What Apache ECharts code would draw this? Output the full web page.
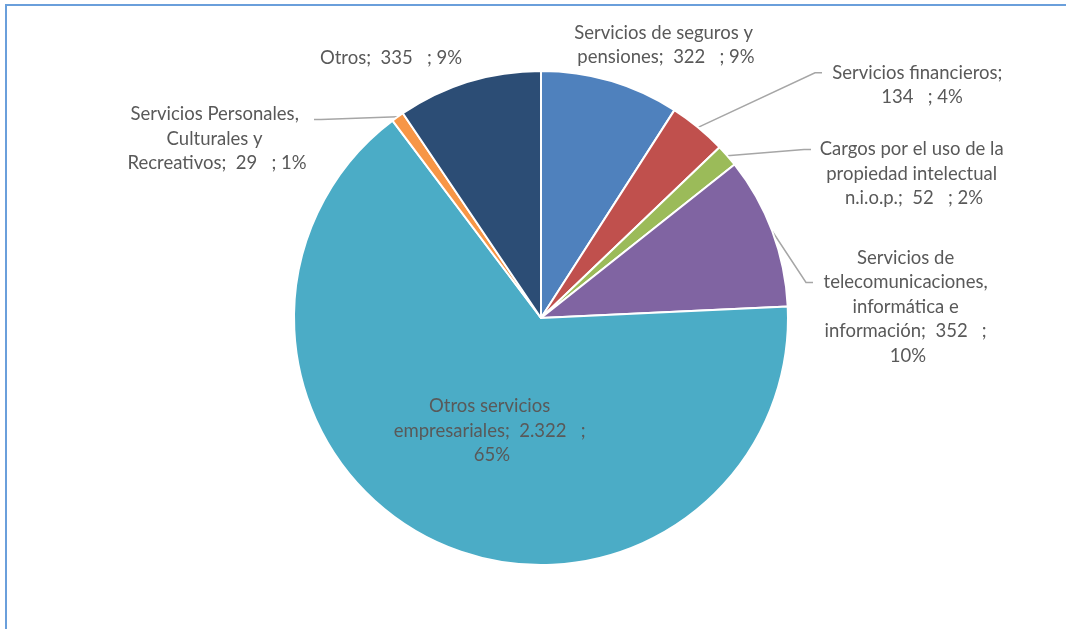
<!DOCTYPE html>
<html>
<head>
<meta charset="utf-8">
<script src="https://cdn.jsdelivr.net/npm/echarts@6/dist/echarts.min.js"></script>
<style>
  html, body { margin: 0; padding: 0; background: #fff; }
  #frame { position: absolute; left: 5px; top: 4px; width: 1061px; height: 623px;
           border-left: 2px solid #6A9FDB; border-top: 2px solid #6A9FDB; border-bottom: 1px solid #EDEDED; }
  #chart { position: absolute; left: 0; top: 0; width: 1066px; height: 629px; }
</style>
</head>
<body>
<div id="frame"></div>
<div id="chart"></div>
<script>
const categories = [
  'Servicios de seguros y pensiones',
  'Servicios financieros',
  'Cargos por el uso de la propiedad intelectual n.i.o.p.',
  'Servicios de telecomunicaciones, informática e información',
  'Otros servicios empresariales',
  'Servicios Personales, Culturales y Recreativos',
  'Otros'
];
const values = [322, 134, 52, 352, 2322, 29, 335];
const percentLabels = [9, 4, 2, 10, 65, 1, 9];

const colors = ['#4F81BD', '#C0504D', '#9BBB59', '#8064A2', '#4BACC6', '#F79646', '#2C4D75'];
// label anchor positions and wrap widths (style)
const labelPos = [[666, 45], [922, 85], [914, 174], [908, 307], [492, 431], [217, 139], [391, 58]];
const labelWidths = [192, 192, 198, 182, 210, 186, 260];
const showLine = [false, true, true, true, false, true, false];
const lineAttachRow = [0, 0, 0, 1, 0, 0.2, 0];
const LH = 24.5;

function fmtNum(v) {
  return String(v).replace(/\B(?=(\d{3})+(?!\d))/g, '.');
}

const chart = echarts.init(document.getElementById('chart'), null, { renderer: 'canvas' });
chart.setOption({
  backgroundColor: 'transparent',
  animation: false,
  series: [{
    type: 'pie',
    center: [541, 318],
    radius: [0, 247],
    startAngle: 90,
    clockwise: true,
    avoidLabelOverlap: false,
    itemStyle: { borderColor: '#fff', borderWidth: 2 },
    label: {
      show: true,
      position: 'outside',
      color: '#595959',
      fontFamily: 'Lato',
      fontSize: 18.5,
      lineHeight: LH,
      align: 'center',
      overflow: 'break',
      formatter: function (p) {
        return p.name + ';  ' + fmtNum(p.value) + '   ; ' + percentLabels[p.dataIndex] + '%';
      }
    },
    labelLine: {
      show: true,
      length: 10,
      length2: 10,
      lineStyle: { color: '#A6A6A6', width: 1.5 }
    },
    labelLayout: function (p) {
      const i = p.dataIndex;
      const pos = labelPos[i];
      const out = { x: pos[0], y: pos[1], align: 'center', verticalAlign: 'middle' };
      if (showLine[i] && p.labelLinePoints) {
        const w = p.labelRect.width, h = p.labelRect.height;
        const top = pos[1] - h / 2;
        const ey = top + LH * (lineAttachRow[i] + 0.5);
        const start = p.labelLinePoints[0];
        let ex, mx;
        if (pos[0] > 541) { ex = pos[0] - w / 2 - 4; mx = ex - 7; }
        else { ex = pos[0] + w / 2 + 4; mx = ex + 7; }
        out.labelLinePoints = [[start[0], start[1]], [mx, ey], [ex, ey]];
      }
      return out;
    },
    data: categories.map(function (name, i) {
      return {
        name: name,
        value: values[i],
        itemStyle: { color: colors[i] },
        label: { width: labelWidths[i] },
        labelLine: { show: showLine[i] }
      };
    })
  }]
});
</script>
</body>
</html>
